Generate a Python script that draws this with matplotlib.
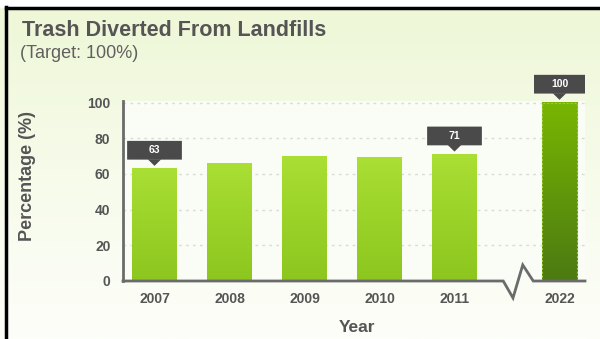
import numpy as np
import matplotlib
matplotlib.use("Agg")
import matplotlib.pyplot as plt
from matplotlib.colors import LinearSegmentedColormap
from matplotlib.patches import Rectangle, FancyBboxPatch, Polygon

plt.rcParams['font.family'] = ['Liberation Sans', 'DejaVu Sans']

# data
years = ["2007", "2008", "2009", "2010", "2011", "2022"]
values = [63, 66, 70, 69, 71, 100]
positions = [0, 1, 2, 3, 4, 5.4]
widths = [0.6, 0.6, 0.6, 0.6, 0.6, 0.47]
callouts = ["2007", "2011", "2022"]
yticks = [0, 20, 40, 60, 80, 100]

W, H = 600, 339
fig = plt.figure(figsize=(W / 100, H / 100), dpi=100)

# background gradient of the whole figure
bg = fig.add_axes([0, 0, 1, 1], zorder=-10)
grad = np.linspace(0, 1, 256).reshape(-1, 1)
bg_cmap = LinearSegmentedColormap.from_list("bg", ["#eef7d6", "#f6fbea", "#fdfef9"])
bg.imshow(grad, cmap=bg_cmap, aspect="auto", extent=[0, 1, 0, 1], origin="upper")
bg.set_xlim(0, 1)
bg.set_ylim(0, 1)
bg.axis("off")
# black frame on left and top
bg.add_line(plt.Line2D([6 / W, 6 / W], [0, 1 - 7 / H], color="black", lw=2.5))
bg.add_line(plt.Line2D([6 / W, 1], [1 - 8 / H, 1 - 8 / H], color="black", lw=2.5))
bg.add_patch(Rectangle((0, 1 - 7 / H), 1, 7 / H, color="white"))

x0, x1 = 123, 585
y0, y100 = 281, 102.5
unit = 75.0
ax = fig.add_axes([x0 / W, 1 - y0 / H, (x1 - x0) / W, (y0 - y100) / H * 1.01])
ax.set_xlim((x0 - 154.5) / unit, (x1 - 154.5) / unit)
ax.set_ylim(0, 101)
ax.set_facecolor("#fafdf6")

for s in ["top", "right", "bottom"]:
    ax.spines[s].set_visible(False)
ax.spines["left"].set_color("#6b6b6b")
ax.spines["left"].set_linewidth(2)

for t in yticks[1:]:
    ax.axhline(t, color="#d8dcd2", lw=1, ls=(0, (2, 3)), zorder=0)

light = LinearSegmentedColormap.from_list("light", ["#8cc61e", "#aadf34"])
dark = LinearSegmentedColormap.from_list("dark", ["#4b7a12", "#78b602"])
vgrad = np.linspace(0, 1, 256).reshape(-1, 1)
for x, v, w, yr in zip(positions, values, widths, years):
    cm = dark if yr == "2022" else light
    ax.imshow(vgrad, cmap=cm, aspect="auto", origin="lower",
              extent=[x - w / 2, x + w / 2, 0, v], zorder=2)
    if yr == "2022":
        ax.add_patch(Rectangle((x - w / 2, 0), w, v, fill=False,
                               ec="#9ccc3c", lw=0.8, ls=(0, (2, 1.5)), zorder=3))

# callouts
for x, v, yr in zip(positions, values, years):
    if yr not in callouts:
        continue
    bw = 0.73 if yr != "2022" else 0.68
    tip = v + 1.5
    base = tip + 3.5
    bh = 10.5
    ax.add_patch(FancyBboxPatch((x - bw / 2, base), bw, bh,
                                boxstyle="round,pad=0,rounding_size=0.02",
                                fc="#4a4a4a", ec="none", zorder=5, clip_on=False))
    ax.add_patch(Polygon([[x - 0.09, base + 0.2], [x + 0.09, base + 0.2], [x, tip]],
                         closed=True, fc="#4a4a4a", ec="none", zorder=5, clip_on=False))
    ax.text(x, base + bh / 2, str(v), color="white", fontsize=7.5, fontweight="bold",
            ha="center", va="center", zorder=6, clip_on=False)

ax.set_xticks(positions)
ax.set_xticklabels(years)
ax.set_yticks(yticks)
ax.tick_params(axis="both", length=0, labelsize=10, labelcolor="#555555")
ax.tick_params(axis="x", pad=8)
ax.tick_params(axis="y", pad=9)
for lb in ax.get_xticklabels() + ax.get_yticklabels():
    lb.set_fontweight("bold")

# bottom axis with break
xa = ax.get_xlim()
brk = [4.65, 4.78, 4.91, 5.05]
ax.plot([xa[0], brk[0], brk[1], brk[2], brk[3], xa[1]], [0, 0, -9.5, 9, 0, 0],
        color="#6b6b6b", lw=2, clip_on=False, zorder=4, solid_joinstyle="miter")

fig.text(357 / W, 1 - 327 / H, "Year", fontsize=12.5, fontweight="bold",
         color="#555555", ha="center", va="center")
fig.text(28 / W, 1 - 176 / H, "Percentage (%)", fontsize=13, fontweight="bold",
         color="#555555", ha="center", va="center", rotation=90)

fig.text(22 / W, 1 - 30 / H, "Trash Diverted From Landfills", fontsize=15.5, fontweight="bold",
         color="#555555", va="center", ha="left")
fig.text(20 / W, 1 - 54 / H, "(Target: 100%)", fontsize=13, color="#606060",
         va="center", ha="left")

fig.savefig("out.png", dpi=100)
